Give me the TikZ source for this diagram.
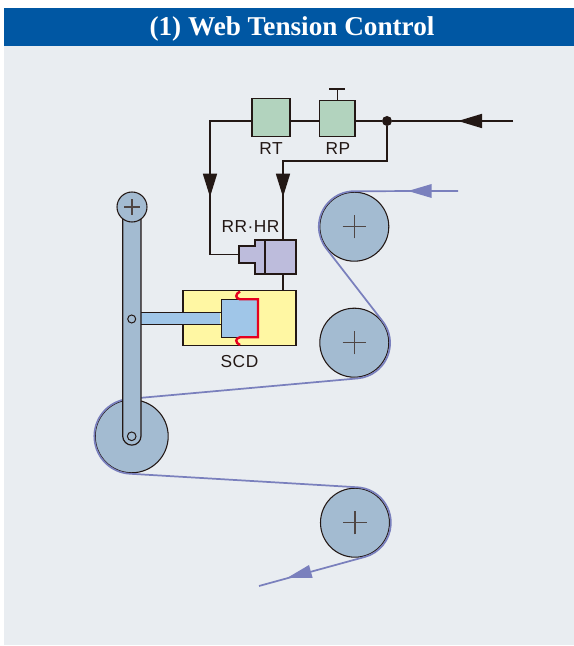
\documentclass[tikz,border=0pt]{standalone}
\usepackage{fontspec}
\setmainfont{Liberation Serif}
\newfontfamily\labelfont[LetterSpace=3]{Liberation Sans}
\usetikzlibrary{arrows.meta}
\definecolor{barblue}{HTML}{0057A3}
\definecolor{panelgray}{HTML}{E9EDF1}
\definecolor{boxgreen}{HTML}{B2D3BE}
\definecolor{cylpurple}{HTML}{BDBCDC}
\definecolor{scdyellow}{HTML}{FFF7A3}
\definecolor{pistonblue}{HTML}{A0C6E8}
\definecolor{rollerblue}{HTML}{A3BBD1}
\definecolor{webblue}{HTML}{7A80BD}
\definecolor{sealred}{HTML}{E60020}
\definecolor{inkdark}{HTML}{231815}
\tikzset{
  wire/.style={draw=inkdark,line width=1.25pt},
  wiretip/.style={wire,-{Triangle[length=17.5pt,width=10.5pt]}},
  unit/.style={draw=inkdark,line width=1.1pt,rectangle,inner sep=0pt},
  roller/.style={draw=inkdark,fill=rollerblue,line width=.8pt,circle,inner sep=0pt,outer sep=.75pt},
  hub/.style={draw=inkdark,line width=.75pt,circle,inner sep=0pt,minimum size=6pt},
  cross/.style={draw=inkdark!80,line width=.8pt},
  web/.style={draw=webblue,line width=1.3pt},
  tag/.style={text=inkdark,font=\labelfont\fontsize{13}{15}\selectfont,inner sep=0pt}
}
\begin{document}
\begin{tikzpicture}[x=.75pt,y=.75pt]
\useasboundingbox (0,0) rectangle (574,646);
% panel and title
\fill[panelgray] (4,1) rectangle (574,600);
\fill[barblue] (4,600) rectangle (574,638);
\node (title) [text=white,inner sep=0pt,font=\bfseries\fontsize{20.4}{22}\selectfont] at (292,617.5) {(1) Web Tension Control};
% rollers
\node (rolla) [roller,minimum size=51.75pt] at (354.3,419.3) {};
\node (rollb) [roller,minimum size=51.75pt] at (354.3,303.3) {};
\node (rollc) [roller,minimum size=51.75pt] at (355,123.3) {};
\node (dancer) [roller,minimum size=54.75pt] at (131.7,209.7) {};
\foreach \r in {rolla,rollb,rollc}
\draw[cross] (\r) +(-11.7,0) -- +(11.7,0) (\r) +(0,-11.7) -- +(0,11.7);
% web
\coordinate (webin) at (458,455);
\coordinate (webout) at (259,60);
\draw[web] (webin) -- (rolla.90) arc[start angle=90,end angle=217.7,radius=35.5]
  -- (rollb.37.7) arc[start angle=37.7,end angle=-84.8,radius=35.5]
  -- (dancer.95.2) arc[start angle=95.2,end angle=266.6,radius=37.5]
  -- (rollc.86.6) arc[start angle=86.6,end angle=-74.6,radius=35.5]
  -- (webout);
\fill[webblue] (408,455) -- (431.7,462) -- (431.7,448) -- cycle;
\fill[webblue] (287,68) -- (309,81) -- (312.7,68) -- cycle;
% rod and arm
\node (rod) [unit,fill=pistonblue,line width=.75pt,minimum width=60.45pt,minimum height=9pt] at (181,327.3) {};
\draw[draw=inkdark,fill=rollerblue,line width=.9pt] (122.7,439) -- (122.7,210) arc[start angle=180,end angle=360,radius=9.15] -- (141,439) -- cycle;
\node (armhub) [hub] at (131.7,327) {};
\node (dancerhub) [hub,minimum size=6.5pt] at (131.7,209.7) {};
\node (rolld) [roller,minimum size=22.5pt] at (132,439) {};
\draw[cross] (rolld) +(-8,0) -- +(8,0) (rolld) +(0,-8) -- +(0,8);
% control units
\node (rt) [unit,fill=boxgreen,minimum width=28.5pt,minimum height=28.8pt] at (271,528.5) {};
\node (rp) [unit,fill=boxgreen,minimum width=26.5pt,minimum height=27pt] at (337.3,527.3) {};
\node (scd) [unit,fill=scdyellow,minimum width=84.75pt,minimum height=41.55pt] at (239.5,328) {};
\node (piston) [unit,fill=pistonblue,minimum width=27.3pt,minimum height=28.5pt] at (239.5,327.7) {};
\node (rodin) [unit,fill=pistonblue,draw=none,minimum width=28pt,minimum height=8pt] at (201,327.3) {};
\draw[draw=inkdark,line width=.75pt] (183,333.3) -- (221.3,333.3) (183,321.3) -- (221.3,321.3);
\draw[sealred,line width=1.8pt] (240,354.5) .. controls (235,352) and (235,347.5) .. (240,346.7) -- (258,346.7) -- (258,308.7) -- (240,308.7) .. controls (235,308) and (235,303) .. (240,301);
\node (cylneck) [unit,fill=cylpurple,minimum width=7.5pt,minimum height=25.5pt] at (260,389) {};
\node (cylport) [unit,fill=cylpurple,minimum width=12pt,minimum height=12.75pt] at (247,391.5) {};
\fill[cylpurple] (253.8,384) rectangle (256.4,399);
\node (cylbody) [unit,fill=cylpurple,minimum width=23.25pt,minimum height=25.5pt] at (280.5,389) {};
% wiring
\node (join) [circle,fill=inkdark,inner sep=0pt,minimum size=7.5pt] at (387,525) {};
\coordinate (feed) at (513,525);
\coordinate (feedtip) at (458,525);
\coordinate (tipa) at (210,449);
\coordinate (tipb) at (283,449);
\coordinate (rpcap) at (337.3,557);
\draw[wire,-{Triangle[length=18pt,width=10.5pt]}] (feed) -- (feedtip);
\draw[wire] (feedtip) ++(4,0) -- (join);
\draw[wire] (join) -- (rp.east |- join);
\draw[wire] (rp.west |- join) -- (rt.east |- join);
\draw[wiretip] (rt.west |- join) -- (tipa |- join) -- (tipa);
\draw[wire] (tipa) ++(0,4) -- (tipa |- cylport) -- (cylport.west);
\draw[wiretip] (join) -- (join |- 0,485) -- (tipb |- 0,485) -- (tipb);
\draw[wire] (tipb) ++(0,4) -- (tipb |- cylbody.north);
\draw[wire] (tipb |- cylbody.south) -- (tipb |- scd.north);
\draw[unit] (rp.north) -- (rpcap);
\draw[unit] (rpcap) +(-8,0) -- +(8,0);
% labels
\node (rtlabel) [tag] at (271,497) {RT};
\node (rplabel) [tag] at (338,497) {RP};
\node (rrlabel) [tag] at (250.5,419.5) {RR·HR};
\node (scdlabel) [tag] at (239.5,284) {SCD};
\end{tikzpicture}
\end{document}
